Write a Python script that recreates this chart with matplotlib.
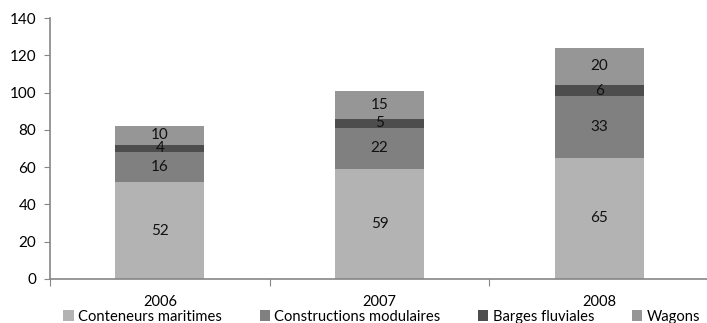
import matplotlib
matplotlib.use("Agg")
import matplotlib.pyplot as plt
import numpy as np

years = ["2006", "2007", "2008"]
series_names = ["Conteneurs maritimes", "Constructions modulaires", "Barges fluviales", "Wagons"]
conteneurs = [52, 59, 65]
constructions = [16, 22, 33]
barges = [4, 5, 6]
wagons = [10, 15, 20]
colors = ["#b3b3b3", "#808080", "#4d4d4d", "#969696"]

plt.rcParams["font.family"] = ["Lato", "DejaVu Sans"]

fig = plt.figure(figsize=(7.07, 3.23), dpi=100)
ax = fig.add_axes([50 / 707, 44 / 323, 659 / 707, (279 - 18) / 323])

x = np.arange(len(years))
bottom = np.zeros(len(years))
for name, vals, col in zip(series_names, [conteneurs, constructions, barges, wagons], colors):
    vals = np.array(vals, dtype=float)
    ax.bar(x, vals, 0.405, bottom=bottom, color=col, label=name, linewidth=0)
    for xi, b, v in zip(x, bottom, vals):
        ax.text(xi, b + v / 2, f"{int(v)}", ha="center", va="center", fontsize=11, color="#111111")
    bottom += vals

ax.set_xlim(-0.5, 2.5)
ax.set_ylim(0, 140)
ax.set_yticks(range(0, 141, 20))
ax.tick_params(axis="y", labelsize=11, length=4, color="#868686", pad=6)
ax.set_xticks([-0.5, 0.5, 1.5, 2.5])
ax.set_xticklabels([])
ax.set_xticks(x, minor=True)
ax.set_xticklabels(years, minor=True)
ax.tick_params(axis="x", which="major", length=5, color="#868686", direction="out")
ax.tick_params(axis="x", which="minor", length=0, labelsize=10.5, pad=11.5)
for s in ["top", "right"]:
    ax.spines[s].set_visible(False)
for s in ["left", "bottom"]:
    ax.spines[s].set_color("#868686")
    ax.spines[s].set_linewidth(1.2)

handles, labels = ax.get_legend_handles_labels()
fig.legend(handles, labels, loc="center", bbox_to_anchor=(0.54, 0.02), ncol=4,
           frameon=False, fontsize=10.6, handlelength=0.7, handleheight=0.7,
           handletextpad=0.3, columnspacing=2.55, borderaxespad=0, borderpad=0)

fig.savefig("out.png", dpi=100)
